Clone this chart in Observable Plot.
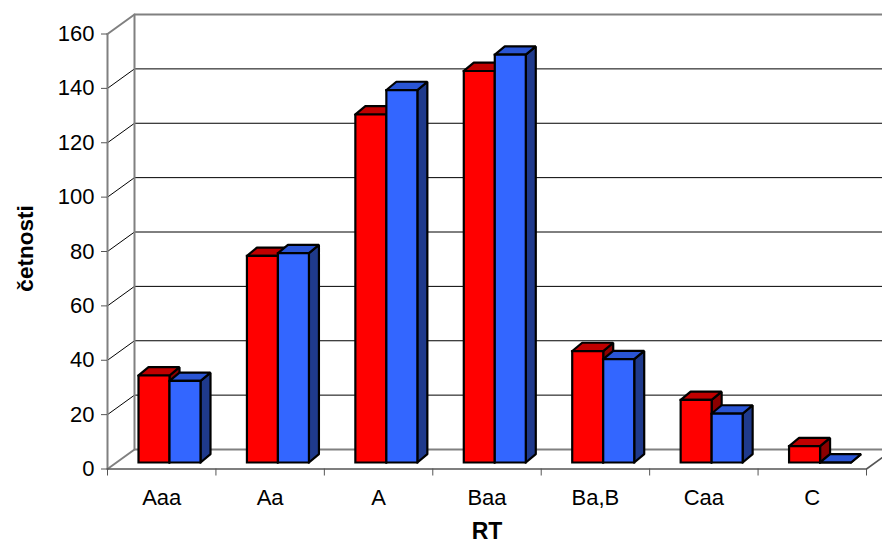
<!DOCTYPE html>
<html>
<head>
<meta charset="utf-8">
<script src="https://cdn.jsdelivr.net/npm/d3@7"></script>
<script src="https://cdn.jsdelivr.net/npm/@observablehq/plot@0.6"></script>
<style>
  html, body { margin: 0; padding: 0; background: #fff; overflow: hidden; }
  #chart svg { display: block; }
</style>
</head>
<body>
<div id="chart"></div>
<script>
// Rating categories and the two frequency series
const categories = ["Aaa", "Aa", "A", "Baa", "Ba,B", "Caa", "C"];
const seriesRed = [32, 76, 128, 144, 41, 23, 6];
const seriesBlue = [30, 77, 137, 150, 38, 18, 0];
const yTicks = [0, 20, 40, 60, 80, 100, 120, 140, 160];
const yMax = 160;

// Layout
const W = 882, H = 545;
const mL = 107, mR = 16, mT = 33.5, mB = 76.5;
const pxPerCat = (W - mL - mR) / categories.length;
const pxPerUnit = (H - mT - mB) / yMax;
const fx = (px) => px / pxPerCat;   // pixel offset -> x units
const fy = (px) => px / pxPerUnit;  // pixel offset -> y units

// 3D depth of the floor/walls and of the bars
const wallDX = fx(27), wallDY = fy(19.5);
const barShiftX = fx(9), barShiftY = fy(6.5);
const barDX = fx(10), barDY = fy(8.3);
const barGap = fx(22), barW = fx(31);

// Polygons for one bar: front, top and side faces
function barFaces(id, x0, v) {
  const xL = x0, xR = x0 + barW, b = barShiftY, t = barShiftY + v;
  return {
    front: [[xL, b], [xR, b], [xR, t], [xL, t], [xL, b]].map(([x, y]) => ({id, x, y})),
    top: [[xL, t], [xR, t], [xR + barDX, t + barDY], [xL + barDX, t + barDY], [xL, t]].map(([x, y]) => ({id, x, y})),
    side: [[xR, b], [xR + barDX, b + barDY], [xR + barDX, t + barDY], [xR, t], [xR, b]].map(([x, y]) => ({id, x, y}))
  };
}

const faces = {red: {front: [], top: [], side: []}, blue: {front: [], top: [], side: []}};
categories.forEach((c, i) => {
  const start = i + barShiftX + barGap;
  const r = barFaces(c + "-r", start, seriesRed[i]);
  const b = barFaces(c + "-b", start + barW, seriesBlue[i]);
  for (const k of ["front", "top", "side"]) {
    faces.red[k].push(...r[k]);
    faces.blue[k].push(...b[k]);
  }
});

// Back wall grid lines with their diagonals on the side wall
const gridRows = [];
yTicks.filter((v) => v > 0 && v < yMax).forEach((v) => {
  gridRows.push({id: v, x: 0, y: v}, {id: v, x: wallDX, y: v + wallDY}, {id: v, x: categories.length + wallDX, y: v + wallDY});
});

// Wall outline: top edge, floor edges, side wall corner
const n = categories.length;
const wallRows = [
  {id: "top", x: 0, y: yMax}, {id: "top", x: wallDX, y: yMax + wallDY}, {id: "top", x: n + wallDX, y: yMax + wallDY},
  {id: "floor", x: 0, y: 0}, {id: "floor", x: wallDX, y: wallDY}, {id: "floor", x: n + wallDX, y: wallDY},
  {id: "corner", x: wallDX, y: wallDY}, {id: "corner", x: wallDX, y: yMax + wallDY},
  {id: "front", x: 0, y: 0}, {id: "front", x: 0, y: yMax}
];
const floorFront = [
  {id: "f", x: 0, y: 0}, {id: "f", x: n, y: 0}, {id: "f", x: n + wallDX, y: wallDY}
];

const face = (rows, fill) => Plot.line(rows, {
  x: "x", y: "y", z: "id", fill, stroke: "#000", strokeWidth: 2.2,
  strokeLinejoin: "miter", strokeLinecap: "square", curve: "linear"
});

const chart = Plot.plot({
  width: W,
  height: H,
  marginLeft: mL,
  marginRight: mR,
  marginTop: mT,
  marginBottom: mB,
  style: {fontFamily: "'Liberation Sans', Arial, sans-serif", background: "#fff", overflow: "hidden"},
  x: {type: "linear", domain: [0, n]},
  y: {type: "linear", domain: [0, yMax]},
  marks: [
    Plot.line(gridRows, {x: "x", y: "y", z: "id", stroke: "#000", strokeWidth: 1, curve: "linear"}),
    Plot.line(wallRows, {x: "x", y: "y", z: "id", stroke: "#808080", strokeWidth: 2, curve: "linear"}),
    Plot.line(floorFront, {x: "x", y: "y", z: "id", stroke: "#555", strokeWidth: 1.6, curve: "linear"}),
    Plot.axisY({ticks: yTicks, tickSize: 6, tickPadding: 7, fontSize: 22, stroke: "#555", label: null}),
    Plot.axisX({ticks: d3.range(n + 1), tickSize: 7, tickFormat: () => "", stroke: "#555", label: null}),
    Plot.axisX({ticks: d3.range(n).map((i) => i + 0.5), tickSize: 0, tickPadding: 20, fontSize: 22,
      tickFormat: (d) => categories[Math.floor(d)], label: null}),
    face(faces.red.side, "#8c0000"),
    face(faces.red.top, "#c00000"),
    face(faces.red.front, "#ff0000"),
    face(faces.blue.side, "#1f3a8c"),
    face(faces.blue.top, "#2a55d4"),
    face(faces.blue.front, "#3366ff"),
    Plot.text(["četnosti"], {frameAnchor: "left", textAnchor: "middle", lineAnchor: "middle", dx: -82, dy: -3, rotate: -90,
      fontSize: 22.5, fontWeight: "bold", fill: "#000"}),
    Plot.text(["RT"], {frameAnchor: "bottom", lineAnchor: "middle", dy: 63, fontSize: 23, fontWeight: "bold", fill: "#000"})
  ]
});

document.getElementById("chart").appendChild(chart);
</script>
</body>
</html>
